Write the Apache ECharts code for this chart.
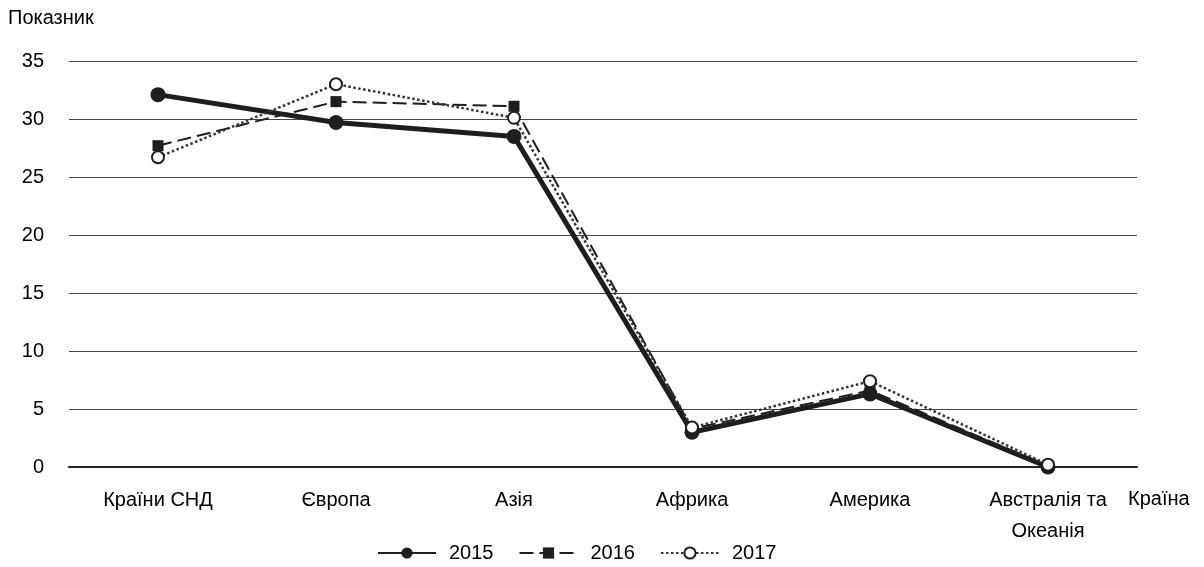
<!DOCTYPE html>
<html><head><meta charset="utf-8">
<script src="https://cdn.jsdelivr.net/npm/echarts@6/dist/echarts.min.js"></script>
<style>html,body{margin:0;padding:0;background:#fff}#c{width:1204px;height:567px}</style>
</head><body><div id="c"></div>
<script>
const categories = ['Країни СНД', 'Європа', 'Азія', 'Африка', 'Америка', 'Австралія та\nОкеанія'];
const s2015 = [32.1, 29.7, 28.5, 3.0, 6.3, 0.0];
const s2016 = [27.7, 31.5, 31.1, 3.3, 6.6, 0.1];
const s2017 = [26.7, 33.0, 30.1, 3.4, 7.4, 0.2];
const yTicks = [0, 5, 10, 15, 20, 25, 30, 35];
const font = 'Liberation Sans, Arial, sans-serif';
const FS = 20;
const chart = echarts.init(document.getElementById('c'));
chart.setOption({
  animation: false,
  backgroundColor: '#fff',
  textStyle: {fontFamily: font, color: '#000'},
  grid: {left: 69, right: 67, top: 61, bottom: 100},
  legend: {
    top: 538, left: 372, itemWidth: 58, itemHeight: 14, itemGap: 25,
    textStyle: {fontSize: FS, fontFamily: font, color: '#000', padding: [0, 0, 0, 8]},
    data: ['2015', '2016', '2017']
  },
  xAxis: {
    type: 'category', data: categories, boundaryGap: true,
    name: 'Країна', nameLocation: 'end', nameGap: -9,
    nameTextStyle: {fontSize: FS, color: '#000', fontFamily: font, verticalAlign: 'top', padding: [22, 0, 0, 0]},
    axisLine: {show: true, lineStyle: {color: '#222', width: 2}},
    axisTick: {show: false},
    axisLabel: {fontSize: FS, color: '#000', margin: 18, lineHeight: 31, fontFamily: font},
  },
  yAxis: {
    type: 'value', min: yTicks[0], max: yTicks[yTicks.length - 1], interval: 5,
    name: 'Показник', nameLocation: 'end', nameGap: 33,
    nameTextStyle: {fontSize: FS, color: '#000', fontFamily: font, align: 'left', padding: [0, 0, 0, -61]},
    axisLine: {show: false}, axisTick: {show: false},
    axisLabel: {fontSize: FS, color: '#000', margin: 25, fontFamily: font},
    splitLine: {lineStyle: {color: '#444', width: 1}}
  },
  series: [
    {name: '2015', type: 'line', data: s2015, symbol: 'circle', symbolSize: 15,
     lineStyle: {color: '#1e1e1e', width: 5}, itemStyle: {color: '#1e1e1e'}, z: 3},
    {name: '2016', type: 'line', data: s2016, symbol: 'rect', symbolSize: 11,
     lineStyle: {color: '#1e1e1e', width: 2, type: [14, 6]}, itemStyle: {color: '#1e1e1e'}, z: 4},
    {name: '2017', type: 'line', data: s2017, symbol: 'emptyCircle', symbolSize: 12,
     lineStyle: {color: '#333', width: 2.5, type: [2.5, 2.5]},
     itemStyle: {color: '#1e1e1e', borderColor: '#1e1e1e', borderWidth: 2.5}, z: 5}
  ]
});
</script></body></html>
